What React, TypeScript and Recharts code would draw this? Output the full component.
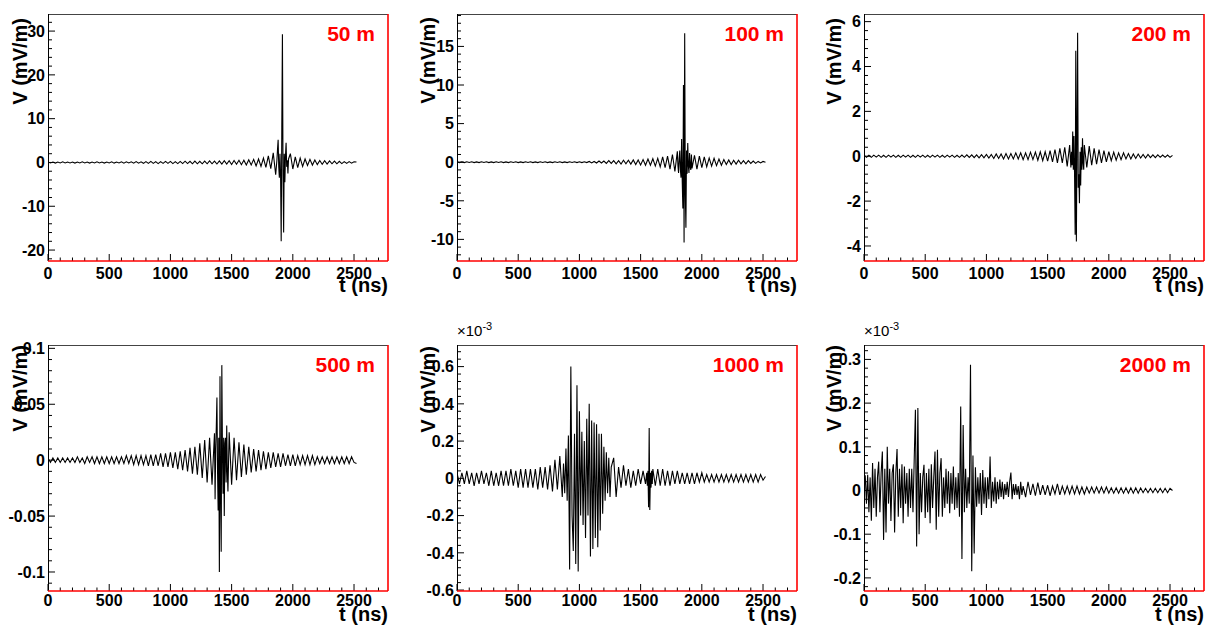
import React from "react";
import { LineChart, Line, XAxis, YAxis } from "recharts";

const FONT = '"Liberation Sans", Arial, Helvetica, sans-serif';
const RED = "#ff0000";

// time axis, shared by every panel (ns)
const X_LABELS = [0, 500, 1000, 1500, 2000, 2500];
const X_MINOR = 100;
const X_MAX = 2777.5;

const DISTANCES = ["50 m", "100 m", "200 m", "500 m", "1000 m", "2000 m"];

// y tick labels (mV/m, the last two panels in units of 1e-3)
const Y_LABELS_50 = [-20, -10, 0, 10, 20, 30];
const Y_LABELS_100 = [-10, -5, 0, 5, 10, 15];
const Y_LABELS_200 = [-4, -2, 0, 2, 4, 6];
const Y_LABELS_500 = [-0.1, -0.05, 0, 0.05, 0.1];
const Y_LABELS_1000 = [-0.6, -0.4, -0.2, 0, 0.2, 0.4, 0.6];
const Y_LABELS_2000 = [-0.2, -0.1, 0, 0.1, 0.2, 0.3];

// --- 50 m ---
const P1_A = [
  0.1, -0.1, 0.1, -0.15, 0.1, -0.1, 0.15, -0.1, 0.1, -0.1,
  0.1, -0.15, 0.1, -0.1, 0.15, -0.1, 0.1, -0.15, 0.1, -0.1,
  0.15, -0.1, 0.1, -0.15, 0.1, -0.1, 0.15, -0.15, 0.1, -0.1,
  0.15, -0.15, 0.15, -0.1, 0.15, -0.15, 0.2, -0.15, 0.15, -0.2,
  0.2, -0.2, 0.25, -0.2, 0.2, -0.25, 0.2, -0.2, 0.25, -0.2,
  0.25, -0.25, 0.2, -0.25, 0.25, -0.25, 0.3, -0.25, 0.25, -0.3,
  0.3, -0.3, 0.25, -0.3, 0.3, -0.3, 0.35, -0.3, 0.3, -0.35,
  0.35, -0.35, 0.4, -0.35, 0.4, -0.45, 0.45, -0.4, 0.5, -0.5,
  0.5, -0.6, 0.6, -0.55, 0.7, -0.8, 0.8, -0.9, 1.0, -1.1,
  1.5, -1.4, 2.2, -2.8,
];
const P1_B = [0.5, 3.0, 5.2, -1.0, -3.5, 2.0, -3.0, -18, 8, 29.3, -3, -16, 2, -4.5, 1.5, 4.5, -1.0, 0.5, -2.5, 0.8];
const P1_C = [
  2.0, -1.5, 1.3, -1.2, 1.0, -0.9, 0.8, -0.7, 0.7, -0.6,
  0.55, -0.5, 0.45, -0.4, 0.4, -0.35, 0.35, -0.3, 0.3, -0.3,
  0.25, -0.25, 0.2, -0.2, 0.2, -0.15, 0.15, 0.1,
];

// --- 100 m ---
const P2_A = [
  0.05, -0.05, 0.04, -0.05, 0.05, -0.04, 0.05, -0.05, 0.04, -0.05,
  0.05, -0.04, 0.05, -0.05, 0.04, -0.05, 0.05, -0.04, 0.05, -0.05,
  0.04, -0.05, 0.05, -0.04, 0.05, -0.05, 0.04, -0.05, 0.05, -0.04,
  0.05, -0.05, 0.04, -0.05, 0.05, -0.04, 0.05, -0.05, 0.04, -0.05,
  0.05, -0.04, 0.05, -0.05, 0.04, -0.05, 0.05, -0.04, 0.05, -0.05,
  0.05, -0.05, 0.05, -0.05, 0.1, -0.1, 0.1, -0.1, 0.15, -0.1,
  0.15, -0.15, 0.2, -0.15, 0.2, -0.2, 0.2, -0.25, 0.25, -0.2,
  0.25, -0.25, 0.3, -0.3, 0.3, -0.35, 0.35, -0.4, 0.4, -0.4,
  0.45, -0.5, 0.5, -0.6, 0.7, -0.7, 0.8, -0.9, 1.0, -1.2,
  1.4,
];
const P2_B = [
  -0.5, -1.4, 0.5, 1.5, -1.0, -2.0, 3.0, -2.5, -6.0, 10.0, -10.4, 16.7,
  -4.0, -8.5, 1.5, -1.5, 2.5, -0.5, -1.4, 1.2, -0.6, -1.0, 1.0, -0.8,
];
const P2_C = [
  0.9, -0.9, 0.8, -0.7, 0.7, -0.6, 0.55, -0.5, 0.5, -0.45,
  0.4, -0.4, 0.35, -0.3, 0.3, -0.3, 0.25, -0.25, 0.25, -0.2,
  0.2, -0.2, 0.2, -0.15, 0.15, -0.15, 0.1, -0.1, 0.1, 0,
];

// --- 200 m ---
const P3_A = [
  0.05, -0.05, 0.04, -0.05, 0.05, -0.04, 0.05, -0.05, 0.04, -0.05,
  0.05, -0.04, 0.05, -0.05, 0.04, -0.05, 0.05, -0.04, 0.05, -0.05,
  0.04, -0.05, 0.05, -0.04, 0.05, -0.05, 0.04, -0.05, 0.05, -0.04,
  0.05, -0.05, 0.04, -0.05, 0.05, -0.04, 0.05, -0.05, 0.04, -0.05,
  0.05, -0.05, 0.06, -0.05, 0.06, -0.06, 0.06, -0.07, 0.07, -0.07,
  0.08, -0.08, 0.08, -0.1, 0.1, -0.1, 0.1, -0.12, 0.12, -0.12,
  0.12, -0.12, 0.15, -0.12, 0.15, -0.15, 0.15, -0.15, 0.18, -0.15,
  0.18, -0.18, 0.2, -0.2, 0.2, -0.22, 0.25, -0.25, 0.3, -0.3,
  0.35, -0.3, 0.4, -0.45, 0.5,
];
const P3_B = [
  -0.5, 0.2, -0.4, 1.1, -0.6, 0.9, -0.8, -3.5, 4.7, -3.8, 1.0, 5.5,
  -1.4, -0.8, -2.1, 0.2, -1.3, 0.4, -0.6, 0.8, -0.3, -0.6, 0.5,
];
const P3_C = [
  -0.5, 0.45, -0.4, 0.35, -0.35, 0.3, -0.3, 0.25, -0.25, 0.2,
  -0.2, 0.18, -0.18, 0.15, -0.15, 0.15, -0.12, 0.12, -0.12, 0.1,
  -0.1, 0.1, -0.08, 0.08, -0.08, 0.08, -0.06, 0.06, -0.06, 0.06,
  -0.05, 0.05, -0.05, 0.05, -0.05, 0.04,
];

// --- 500 m ---
const P4_A = [
  0.002, -0.002, 0.002, -0.002, 0.002, -0.002, 0.002, -0.002, 0.002, -0.002,
  0.002, -0.002, 0.003, -0.002, 0.002, -0.003, 0.003, -0.002, 0.003, -0.003,
  0.003, -0.003, 0.003, -0.003, 0.003, -0.003, 0.003, -0.003, 0.003, -0.003,
  0.003, -0.003, 0.004, -0.003, 0.004, -0.004, 0.004, -0.004, 0.004, -0.004,
  0.004, -0.005, 0.005, -0.005, 0.005, -0.005, 0.006, -0.006, 0.006, -0.006,
  0.007, -0.007, 0.007, -0.008, 0.008, -0.009, 0.009, -0.01, 0.011, -0.012,
  0.012, -0.013, 0.015, -0.016, 0.018, -0.02, 0.02, -0.022, 0.024,
];
const P4_B = [
  -0.035, 0.01, 0.03, 0.056, -0.01, -0.045, 0.02, -0.1, 0.075, -0.03, -0.082,
  0.085, 0.01, -0.03, 0.02, -0.05, 0.015, 0.02, -0.02, 0.031, -0.01, -0.028,
];
const P4_C = [
  0.025, -0.022, 0.02, -0.018, 0.016, -0.015,
  0.014, -0.013, 0.012, -0.011, 0.01, -0.01, 0.009, -0.009, 0.008, -0.008,
  0.007, -0.007, 0.007, -0.006, 0.006, -0.006, 0.006, -0.005, 0.005, -0.005,
  0.005, -0.005, 0.004, -0.004, 0.004, -0.004, 0.004, -0.004, 0.004, -0.004,
  0.003, -0.003, 0.003, -0.003, 0.003, -0.003, 0.003, -0.003, 0.003, -0.003,
  0.003, -0.003, 0.003, -0.003, 0.003, -0.002, -0.003,
];

// --- 1000 m (x 1e-3) ---
const P5_A = [
  0.03, -0.03, 0.03, -0.03, 0.04, -0.03, 0.03, -0.04, 0.03, -0.03,
  0.04, -0.03, 0.03, -0.04, 0.04, -0.04, 0.03, -0.04, 0.04, -0.04,
  0.04, -0.04, 0.05, -0.04, 0.04, -0.05, 0.05, -0.05, 0.05, -0.05,
  0.05, -0.05, 0.05, -0.06, 0.06, -0.05, 0.06, -0.06, 0.07, -0.07,
  0.1, -0.06, 0.12, -0.1,
];
const P5_B = [
  0.08, -0.08, 0.16, -0.12, 0.23, -0.49, 0.6, -0.2, -0.39, 0.24,
  -0.46, 0.5, -0.5, 0.36, -0.2, 0.25, -0.25, 0.2, -0.32, 0.32,
  -0.2, 0.4, -0.42, 0.31, -0.38, 0.3, -0.32, 0.29, -0.37, 0.24,
  -0.28, 0.24, -0.19, 0.17, -0.12, 0.14, -0.08, 0.11, -0.1, 0.06,
];
const P5_C = [0.11, -0.1, 0.06, -0.05, 0.07, -0.04, 0.05, -0.05, 0.04, -0.04, 0.05, -0.03, 0.04, -0.03];
const P5_D = [0.03, -0.04, 0.04, -0.155, 0.27, -0.17, 0.03, -0.05, 0.04, -0.03, 0.05];
const P5_E = [
  -0.04, 0.05, -0.04, 0.05, -0.04, 0.04, -0.04, 0.04, -0.03, 0.04,
  -0.03, 0.03, -0.03, 0.03, -0.03, 0.03, -0.03, 0.03, -0.02, 0.03,
  -0.02, 0.02, -0.02, 0.02, -0.02, 0.02, -0.02, 0.02, -0.02, 0.02,
  -0.02, 0.02, -0.02, 0.02, -0.02, 0.02, -0.02, 0.02, -0.02, 0.02,
  -0.02, 0.02, -0.02, 0.02, -0.01, 0.01,
];

// --- 2000 m (x 1e-3) ---
const P6_A = [
  0, 0.035, -0.03, 0.036, -0.05, 0.03, -0.069, 0.063, -0.04, 0.05,
  -0.06, 0.03, 0.066, -0.05, 0.04, 0.089, -0.113, 0.05, -0.096, 0.1,
  -0.03, 0.05, -0.07, 0.04, 0.06, -0.096, 0.04, 0.095, -0.06, 0.05,
  -0.04, 0.06, -0.075, 0.055, -0.03, 0.04, -0.06, 0.05, -0.04, 0.05,
  -0.05, 0.068, 0.185, -0.128, 0.189, -0.1, 0.04, -0.05, 0.03, 0.059,
  -0.063, 0.04, -0.05, 0.05, -0.075, 0.06, -0.04, 0.03, 0.089, -0.09,
  0.093, -0.06, 0.04, 0.074, -0.06, 0.03, -0.04, 0.05, -0.03, 0.044,
  -0.052, 0.04, -0.03, 0.055, -0.044, 0.03, -0.04, 0.04, -0.06, 0.192,
  -0.157, 0.15, -0.05, 0.05, -0.04, 0.03, -0.03, 0.288, -0.185, 0.08,
  -0.144, 0.053, -0.037, 0.03, -0.03, 0.04, -0.056, 0.047, -0.03, 0.03,
  -0.04, 0.03, -0.02, 0.078, -0.04, 0.02, -0.025, 0.03, -0.03, 0.02,
  -0.02, 0.025, -0.015, 0.02, -0.02, 0.015, -0.01, 0.02, -0.015, 0.02,
  0.041, -0.02, 0.015, -0.01, 0.015, -0.01, 0.01, -0.02, 0.02, -0.01, 0.01,
];
const P6_B = [
  -0.015, 0.02, -0.01, 0.015, -0.012, 0.018, -0.01, 0.012, -0.01, 0.012,
  -0.012, 0.01, -0.008, 0.015, -0.01, 0.01, -0.008, 0.01, -0.008, 0.01,
  -0.008, 0.01, -0.008, 0.008, -0.008, 0.008, -0.006, 0.008, -0.006, 0.008,
  -0.006, 0.008, -0.006, 0.008, -0.006, 0.006, -0.006, 0.006, -0.006, 0.006,
  -0.006, 0.006, -0.006, 0.006, -0.006, 0.006, -0.006, 0.006, -0.005, 0.005,
  -0.005, 0.005, -0.005, 0.005, -0.005, 0.005, -0.005, 0.005, -0.005, 0.005,
  0,
];

type Seg = [number, number, number[]];

function build(segs: Seg[]) {
  const rows: { t: number; v: number }[] = [];
  segs.forEach(([start, step, values]) =>
    values.forEach((v, i) => rows.push({ t: start + i * step, v }))
  );
  return rows;
}

function makeTicks(lo: number, hi: number, step: number) {
  const out: number[] = [];
  for (let k = Math.ceil(lo / step - 1e-9); k * step <= hi + 1e-9; k++) {
    out.push(Math.round(k * step * 1e6) / 1e6);
  }
  return out;
}

const PANELS = [
  { label: DISTANCES[0], domain: [-22.5, 33.9], labels: Y_LABELS_50, minor: 2, exp: false,
    data: build([[0, 20, P1_A], [1870, 5, P1_B], [1980, 20, P1_C]]) },
  { label: DISTANCES[1], domain: [-12.8, 19.2], labels: Y_LABELS_100, minor: 1, exp: false,
    data: build([[0, 20, P2_A], [1805, 5, P2_B], [1940, 20, P2_C]]) },
  { label: DISTANCES[2], domain: [-4.67, 6.34], labels: Y_LABELS_200, minor: 0.4, exp: false,
    data: build([[0, 20, P3_A], [1690, 5, P3_B], [1820, 20, P3_C]]) },
  { label: DISTANCES[3], domain: [-0.117, 0.103], labels: Y_LABELS_500, minor: 0.01, exp: false,
    data: build([[0, 20, P4_A], [1365, 5, P4_B], [1480, 20, P4_C]]) },
  { label: DISTANCES[4], domain: [-0.605, 0.716], labels: Y_LABELS_1000, minor: 0.04, exp: true,
    data: build([[0, 20, P5_A], [870, 10, P5_B], [1280, 20, P5_C], [1550, 5, P5_D], [1620, 20, P5_E]]) },
  { label: DISTANCES[5], domain: [-0.23, 0.333], labels: Y_LABELS_2000, minor: 0.02, exp: true,
    data: build([[0, 10, P6_A], [1320, 20, P6_B]]) },
];

// plot frames on the page
const PLOT_W = 340;
const LAYOUT = [
  { L: 48, T: 14, H: 247, vx: 27, vy: 18, tickBase: 17.5, titleBase: 31, row: 0 },
  { L: 457, T: 14, H: 247, vx: 435, vy: 17, tickBase: 17.5, titleBase: 31, row: 0 },
  { L: 864, T: 14, H: 247, vx: 841, vy: 18, tickBase: 17.5, titleBase: 31, row: 0 },
  { L: 48, T: 345, H: 246, vx: 27, vy: 345, tickBase: 14.5, titleBase: 30, row: 1 },
  { L: 457, T: 345, H: 246, vx: 435, vy: 346, tickBase: 14.5, titleBase: 30, row: 1 },
  { L: 864, T: 345, H: 246, vx: 841, vy: 345, tickBase: 14.5, titleBase: 30, row: 1 },
];

const Y_AXIS_W = 48;
const TOP = 14;
const X_AXIS_H = 35;
const TICK_FONT = 16;

function Panel({ i }: { i: number }) {
  const p = PANELS[i];
  const lay = LAYOUT[i];
  const bottom = TOP + lay.H;
  const xTicks = makeTicks(0, X_MAX, X_MINOR);
  const yTicks = makeTicks(p.domain[0], p.domain[1], p.minor);

  const xTick = (props: any) => {
    const v = props.payload.value;
    const major = X_LABELS.includes(v);
    return (
      <g>
        <line x1={props.x} x2={props.x} y1={bottom} y2={bottom - (major ? 7 : 3.5)} stroke="#000" strokeWidth={1} />
        {major && (
          <text x={props.x} y={bottom + lay.tickBase} textAnchor="middle" fontFamily={FONT} fontWeight="bold" fontSize={TICK_FONT} fill="#000">
            {v}
          </text>
        )}
      </g>
    );
  };

  const yTick = (props: any) => {
    const v = props.payload.value;
    const lab = p.labels.find((l) => Math.abs(l - v) < p.minor / 10);
    return (
      <g>
        <line x1={Y_AXIS_W} x2={Y_AXIS_W + (lab !== undefined ? 7 : 4)} y1={props.y} y2={props.y} stroke="#000" strokeWidth={1} />
        {lab !== undefined && (
          <text x={Y_AXIS_W - 3} y={props.y} dy="0.36em" textAnchor="end" fontFamily={FONT} fontWeight="bold" fontSize={TICK_FONT} fill="#000">
            {String(lab)}
          </text>
        )}
      </g>
    );
  };

  return (
    <div style={{ position: "absolute", left: lay.L - Y_AXIS_W, top: lay.T - TOP }}>
      <LineChart
        width={Y_AXIS_W + PLOT_W + 2}
        height={TOP + lay.H + X_AXIS_H}
        data={p.data}
        margin={{ top: TOP, right: 2, left: 0, bottom: 0 }}
      >
        <XAxis
          type="number"
          dataKey="t"
          domain={[0, X_MAX]}
          allowDataOverflow
          ticks={xTicks}
          interval={0}
          height={X_AXIS_H}
          axisLine={false}
          tickLine={false}
          tick={xTick}
        />
        <YAxis
          type="number"
          domain={p.domain}
          allowDataOverflow
          ticks={yTicks}
          interval={0}
          width={Y_AXIS_W}
          axisLine={false}
          tickLine={false}
          tick={yTick}
        />
        <Line type="linear" dataKey="v" stroke="#000" strokeWidth={1.1} dot={false} isAnimationActive={false} />
      </LineChart>
    </div>
  );
}

function Overlay() {
  return (
    <svg width={1206} height={625} style={{ position: "absolute", left: 0, top: 0, pointerEvents: "none" }}>
      <defs>
        <clipPath id="row0">
          <rect x={0} y={0} width={1206} height={297} />
        </clipPath>
      </defs>
      {LAYOUT.map((lay, i) => {
        const R = lay.L + PLOT_W;
        const B = lay.T + lay.H;
        return (
          <g key={i}>
            <line x1={lay.L} x2={R} y1={lay.T + 0.5} y2={lay.T + 0.5} stroke="#444" strokeWidth={1} />
            <line x1={lay.L + 0.5} x2={lay.L + 0.5} y1={lay.T} y2={B} stroke="#000" strokeWidth={1} />
            <line x1={lay.L} x2={R} y1={B} y2={B} stroke={RED} strokeWidth={1.6} />
            <line x1={R} x2={R} y1={lay.T} y2={B} stroke={RED} strokeWidth={1.6} />
            <text x={R - 13} y={lay.T + 26.5} textAnchor="end" fontFamily={FONT} fontWeight="bold" fontSize={21} fill={RED}>
              {PANELS[i].label}
            </text>
            <text
              transform={`translate(${lay.vx}, ${lay.vy}) rotate(-90)`}
              textAnchor="end"
              fontFamily={FONT}
              fontWeight="bold"
              fontSize={20}
              fill="#000"
            >
              V (mV/m)
            </text>
            <g clipPath={lay.row === 0 ? "url(#row0)" : undefined}>
              <text x={R} y={B + lay.titleBase} textAnchor="end" fontFamily={FONT} fontWeight="bold" fontSize={20} fill="#000">
                t (ns)
              </text>
            </g>
            {PANELS[i].exp && (
              <text x={lay.L} y={lay.T - 9} fontFamily={FONT} fontSize={15} fill="#000">
                ×10
                <tspan dy={-6} fontSize={11}>
                  -3
                </tspan>
              </text>
            )}
          </g>
        );
      })}
    </svg>
  );
}

export default function App() {
  return (
    <div style={{ position: "absolute", left: 0, top: 0, width: 1206, height: 625, background: "#fff", overflow: "hidden" }}>
      {PANELS.map((_, i) => (
        <Panel key={i} i={i} />
      ))}
      <Overlay />
    </div>
  );
}
